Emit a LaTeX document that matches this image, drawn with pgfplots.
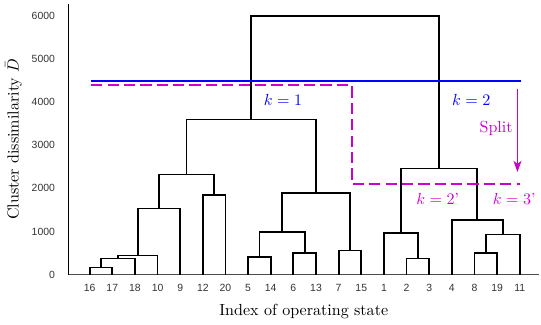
\documentclass[border=0pt]{standalone}
\usepackage{pgfplots}
\pgfplotsset{compat=1.18}
\usepackage{fontspec}
\newfontfamily\tickfont{Liberation Sans}
\usetikzlibrary{arrows.meta}
\definecolor{mag}{RGB}{204,0,204}
\begin{document}
\begin{tikzpicture}
\begin{axis}[
  scale only axis, width=293pt, height=168.5pt,
  xmin=-0.93, xmax=19.85, ymin=0, ymax=6280,
  axis x line=bottom, axis y line=left,
  axis line style={-},
  x axis line style={black!70},
  y axis line style={black, line width=0.7pt},
  major tick length=0pt,
  xtick={0,...,19},
  xticklabels={16,17,18,10,9,12,20,5,14,6,13,7,15,1,2,3,4,8,19,11},
  ytick={0,1000,2000,3000,4000,5000,6000},
  yticklabels={0,1000,2000,3000,4000,5000,6000},
  tick label style={font=\tickfont\fontsize{6.5}{7}\selectfont, text=black!80},
  xticklabel style={yshift=-2.5pt},
  yticklabel style={xshift=-5pt},
  xlabel={Index of operating state},
  ylabel={Cluster dissimilarity $\bar{D}$},
  every axis x label/.style={at={(axis description cs:0.5,-0.137)}, anchor=center},
  every axis y label/.style={at={(axis description cs:-0.117,0.5)}, anchor=center, rotate=90},
  clip=false,
]
\pgfplotsset{dend/.style={black, line width=1.1pt, mark=none}}
\addplot[dend] coordinates {(0,0) (0,160) (1,160) (1,0)};
\addplot[dend] coordinates {(0.5,160) (0.5,370) (2,370) (2,0)};
\addplot[dend] coordinates {(1.25,370) (1.25,440) (3,440) (3,0)};
\addplot[dend] coordinates {(2.125,440) (2.125,1530) (4,1530) (4,0)};
\addplot[dend] coordinates {(5,0) (5,1850) (6,1850) (6,0)};
\addplot[dend] coordinates {(3.0625,1530) (3.0625,2320) (5.5,2320) (5.5,1850)};
\addplot[dend] coordinates {(7,0) (7,410) (8,410) (8,0)};
\addplot[dend] coordinates {(9,0) (9,500) (10,500) (10,0)};
\addplot[dend] coordinates {(7.5,410) (7.5,990) (9.5,990) (9.5,500)};
\addplot[dend] coordinates {(11,0) (11,560) (12,560) (12,0)};
\addplot[dend] coordinates {(8.5,990) (8.5,1890) (11.5,1890) (11.5,560)};
\addplot[dend] coordinates {(4.28125,2320) (4.28125,3600) (10,3600) (10,1890)};
\addplot[dend] coordinates {(14,0) (14,370) (15,370) (15,0)};
\addplot[dend] coordinates {(13,0) (13,960) (14.5,960) (14.5,370)};
\addplot[dend] coordinates {(17,0) (17,500) (18,500) (18,0)};
\addplot[dend] coordinates {(17.5,500) (17.5,930) (19,930) (19,0)};
\addplot[dend] coordinates {(16,0) (16,1260) (18.25,1260) (18.25,930)};
\addplot[dend] coordinates {(13.75,960) (13.75,2460) (17.125,2460) (17.125,1260)};
\addplot[dend] coordinates {(7.140625,3600) (7.140625,6000) (15.4375,6000) (15.4375,2460)};
% cut lines
\addplot[blue, line width=1.1pt, mark=none] coordinates {(0.07,4500) (19.05,4500)};
\addplot[mag, line width=1.1pt, mark=none, dash pattern=on 7pt off 3.2pt] coordinates {(0.07,4400) (11.58,4400) (11.58,2110) (19.03,2110)};
\addplot[mag, line width=0.6pt, mark=none, -{Stealth[length=7pt,width=5pt,inset=2pt]}] coordinates {(18.9,4300) (18.9,2380)};
\node[text=blue] at (axis cs:8.54,4050) {$k = 1$};
\node[text=blue] at (axis cs:16.86,4050) {$k = 2$};
\node[text=mag, anchor=east, inner sep=0pt] at (axis cs:18.7,3400) {Split};
\node[text=mag] at (axis cs:15.38,1744) {$k = 2$'};
\node[text=mag] at (axis cs:18.76,1744) {$k = 3$'};
\path (axis description cs:0,1) ++(0,2.5pt) coordinate (bbtop);
\path (axis description cs:0,0) ++(0,-28.7pt) coordinate (bbbot);
\path[use as bounding box] (bbtop) -- (bbbot);
\end{axis}
\end{tikzpicture}
\end{document}
